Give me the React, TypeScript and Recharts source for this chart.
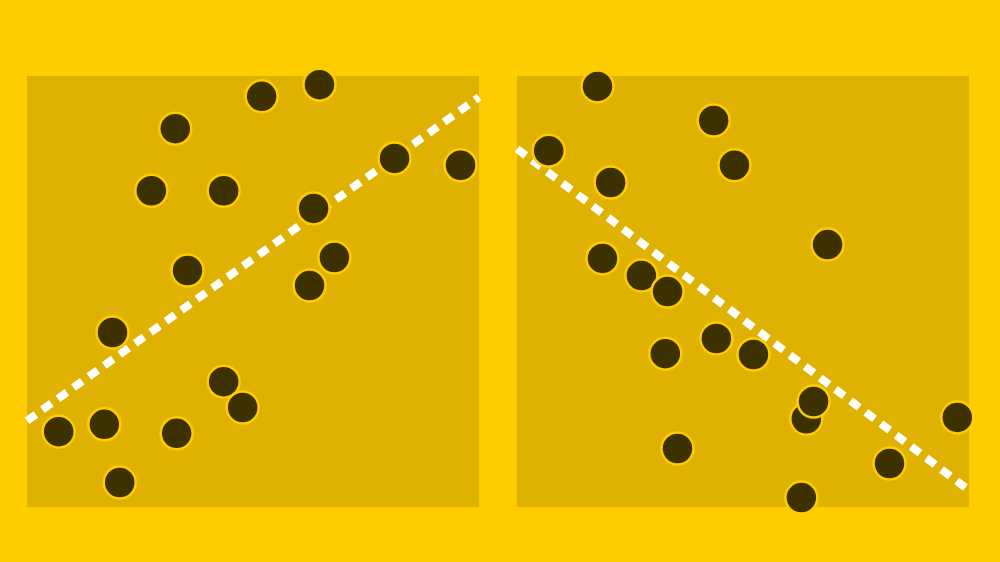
import React from "react";
import { ReferenceArea, ReferenceLine, Scatter, ScatterChart, XAxis, YAxis } from "recharts";

const leftX = [32.7, 51.8, 64.6, 27.4, 43.4, 81.2, 95.8, 63.3, 35.4, 67.9, 62.4, 18.8, 43.4, 47.6, 6.9, 17.0, 33.0, 20.4];
const leftY = [87.9, 95.4, 98.1, 73.5, 73.5, 81.0, 79.4, 69.4, 55.0, 58.0, 51.5, 40.6, 29.2, 23.2, 17.6, 19.3, 17.2, 5.8];
const leftTrend = [20.0, 95.1];

const rightX = [17.7, 43.4, 6.9, 48.0, 20.6, 68.6, 18.8, 27.4, 33.2, 32.7, 44.0, 52.2, 63.9, 65.5, 97.3, 35.4, 82.3, 62.8];
const rightY = [97.7, 89.8, 82.8, 79.4, 75.4, 61.0, 57.8, 53.8, 50.1, 35.7, 39.2, 35.5, 20.6, 24.6, 20.9, 13.7, 10.2, 2.3];
const rightTrend = [83.1, 3.9];

const BG = "#FFCC00";
const PANEL = "#DFB100";
const DOT = "#3D3100";

const Dot = (props: any) => (
  <circle cx={props.cx + 0.5} cy={props.cy + 0.5} r={16} fill={DOT} stroke={BG} strokeWidth={2.5} />
);

function Panel({ xs, ys, trend, left }: { xs: number[]; ys: number[]; trend: number[]; left: number }) {
  const data = xs.map((x, i) => ({ x, y: ys[i] }));
  return (
    <div style={{ position: "absolute", left, top: 0 }}>
      <ScatterChart width={500} height={562} margin={{ top: 76, right: 21, bottom: 55, left: 27 }}>
        <XAxis type="number" dataKey="x" domain={[0, 100]} hide />
        <YAxis type="number" dataKey="y" domain={[0, 100]} hide />
        <ReferenceArea x1={0} x2={100} y1={0} y2={100} fill={PANEL} fillOpacity={1} stroke="none" />
        <ReferenceLine
          segment={[{ x: 0, y: trend[0] }, { x: 100, y: trend[1] }]}
          stroke="#FFFFFF"
          strokeWidth={8}
          strokeDasharray="11 8"
        />
        <Scatter data={data} shape={Dot} isAnimationActive={false} />
      </ScatterChart>
    </div>
  );
}

export default function App() {
  return (
    <div style={{ position: "fixed", left: 0, top: 0, width: 1000, height: 562, background: BG, overflow: "hidden" }}>
      <Panel xs={leftX} ys={leftY} trend={leftTrend} left={0} />
      <Panel xs={rightX} ys={rightY} trend={rightTrend} left={490} />
    </div>
  );
}
